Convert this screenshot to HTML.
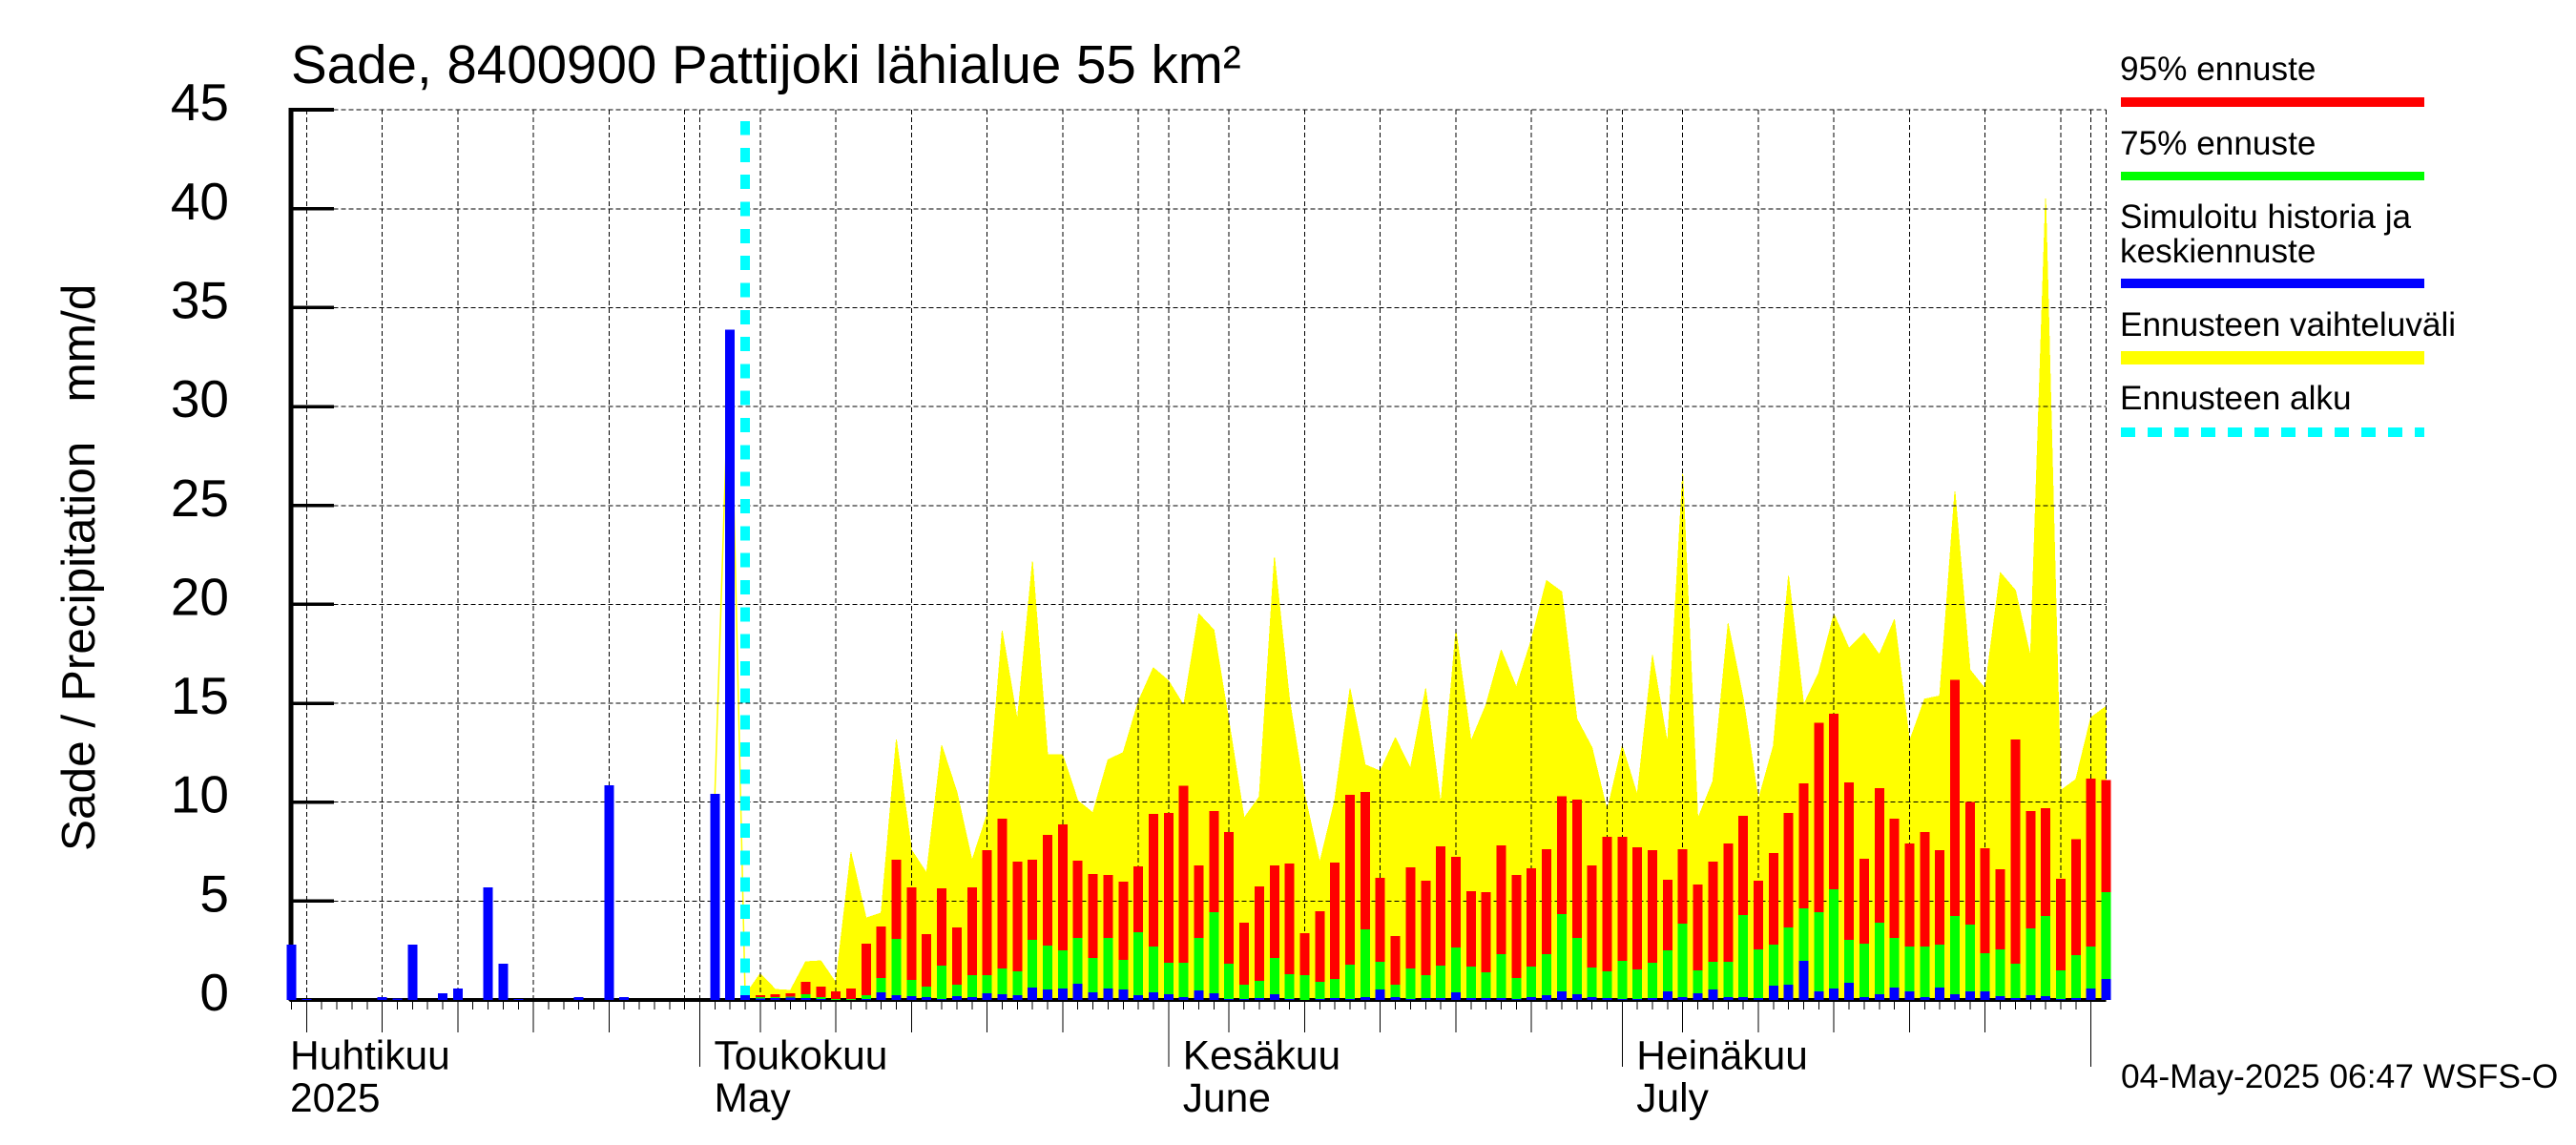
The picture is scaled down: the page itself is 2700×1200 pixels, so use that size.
<!DOCTYPE html>
<html lang="fi">
<head>
<meta charset="utf-8">
<title>Sade, 8400900 Pattijoki lähialue 55 km²</title>
<style>
  html, body { margin: 0; padding: 0; background: #fff; width: 2700px; height: 1200px; overflow: hidden; }
  svg { display: block; }
  text { font-family: "Liberation Sans", sans-serif; fill: #000; white-space: pre; }
</style>
</head>
<body>
<svg id="chart" xmlns="http://www.w3.org/2000/svg" width="2700" height="1200" viewBox="0 0 2700 1200">
  <rect x="0" y="0" width="2700" height="1200" fill="#fff"/>
  <g id="band-layer"></g>
  <g id="grid-layer"></g>
  <g id="axis-layer"></g>
  <g id="start-layer"></g>
  <g id="bar-layer"></g>

  <text x="305" y="87" font-size="56.5">Sade, 8400900 Pattijoki lähialue 55 km²</text>
  <text transform="translate(99 892) rotate(-90)" font-size="49.5">Sade / Precipitation   mm/d</text>
  <text x="2223" y="1140" font-size="35.4">04-May-2025 06:47 WSFS-O</text>

  <g>
    <text x="2222" y="84" font-size="35.2">95% ennuste</text>
    <rect x="2223" y="102" width="318" height="10" fill="#ff0000"/>
    <text x="2222" y="162" font-size="35.2">75% ennuste</text>
    <rect x="2223" y="180" width="318" height="9" fill="#00ff00"/>
    <text x="2222" y="239" font-size="35.2">Simuloitu historia ja</text>
    <text x="2222" y="275" font-size="35.2">keskiennuste</text>
    <rect x="2223" y="292" width="318" height="10" fill="#0000ff"/>
    <text x="2222" y="352" font-size="35.2">Ennusteen vaihteluväli</text>
    <rect x="2223" y="368" width="318" height="14" fill="#ffff00"/>
    <text x="2222" y="429" font-size="35.2">Ennusteen alku</text>
    <line x1="2223" x2="2541" y1="453" y2="453" stroke="#00ffff" stroke-width="10" stroke-dasharray="15 13" shape-rendering="crispEdges"/>
  </g>
</svg>

<script>
// Day index 0 = 4 Apr 2025, one value per day through index 120.
const blueValues = [
  2.8,.05,0,0,0,0,.15,.08,2.8,0,.34,.59,0,5.69,1.83,.05,0,0,0,.15,0,10.86,.15,0,0,0,0,0,10.41,33.88,.24,
  .08,.10,.11,.10,.05,0,0,.05,.39,.24,.19,.14,.05,.19,.14,.34,.29,.24,.63,.53,.58,.82,.39,.58,.53,.24,.39,.29,.14,
  .48,.34,.05,.05,.10,.29,.05,0,.05,.10,.05,.14,.53,.14,.05,.10,.10,.39,.10,.10,.10,.05,.14,.24,.43,.29,.14,.10,.05,.05,
  .10,.43,.14,.34,.53,.14,.14,.10,.72,.77,1.98,.43,.58,.87,.14,.29,.63,.43,.14,.63,.29,.43,.43,.19,.10,.24,.19,.05,.10,.58,1.06
];
const greenValues = [
  0,0,0,0,0,0,0,0,0,0,0,0,0,0,0,0,0,0,0,0,0,0,0,0,0,0,0,0,0,0,0,
  .14,.14,.18,.29,.14,.05,.05,.24,1.11,3.08,1.01,.67,1.73,.77,1.25,1.25,1.59,1.45,3.04,2.75,2.51,3.13,2.12,3.13,2.02,3.42,2.70,1.88,1.88,
  3.13,4.43,1.83,.77,.96,2.12,1.30,1.25,.92,1.06,1.78,3.57,1.93,.77,1.59,1.25,1.73,2.65,1.69,1.40,2.31,1.11,1.69,2.31,4.34,3.13,1.64,1.45,1.98,1.54,
  1.88,2.51,3.86,1.49,1.93,1.93,4.29,2.55,2.80,3.66,4.63,4.43,5.59,3.04,2.84,3.90,3.13,2.70,2.70,2.80,4.24,3.81,2.36,2.55,1.83,3.61,4.24,1.49,2.27,2.70,5.45
];
const redValues = [
  0,0,0,0,0,0,0,0,0,0,0,0,0,0,0,0,0,0,0,0,0,0,0,0,0,0,0,0,0,0,0,
  .24,.29,.34,.92,.67,.43,.58,2.84,3.71,7.08,5.69,3.33,5.64,3.66,5.69,7.57,9.16,6.99,7.08,8.34,8.87,7.04,6.36,6.31,5.98,6.75,9.40,9.45,10.84,
  6.80,9.54,8.48,3.90,5.73,6.80,6.89,3.37,4.48,6.94,10.36,10.51,6.17,3.23,6.70,6.02,7.76,7.23,5.49,5.45,7.81,6.31,6.65,7.61,10.31,10.12,6.80,8.24,8.24,7.71,
  7.57,6.07,7.61,5.83,6.99,7.90,9.30,6.02,7.42,9.45,10.94,14.02,14.46,10.99,7.13,10.70,9.16,7.90,8.48,7.57,16.19,10.02,7.66,6.60,13.16,9.54,9.69,6.12,8.14,11.18,11.13
];
// Forecast range upper bound, starting at day index 28.
const bandStartDay = 28;
const bandValues = [
  10.41,33.88,.24,
  1.32,.53,.48,1.93,1.98,.87,7.45,4.14,4.39,13.16,7.58,6.41,12.87,10.51,7.05,9.38,18.65,14.12,22.15,12.39,12.39,10.07,9.46,12.14,12.51,15.08,16.79,16.13,14.88,
  19.52,18.70,14.04,9.19,10.27,22.36,15.16,10.35,6.94,10.10,15.73,11.89,11.57,13.25,11.71,15.73,9.86,18.67,13.08,14.92,17.69,15.81,18.22,21.20,20.63,14.20,12.76,9.54,12.84,10.35,
  17.41,12.92,26.57,9.14,11.07,19.02,15.24,10.10,12.84,21.43,14.92,16.53,19.50,17.77,18.54,17.45,19.23,13.08,15.21,15.37,25.7,16.69,15.73,21.6,20.71,17.33,40.5,10.59,11.15,14.28,14.84
];
const yTickValues = [0,5,10,15,20,25,30,35,40,45];
const gridDays = [1,6,11,16,21,26,27,31,36,41,46,51,56,58,62,67,72,77,82,87,88,92,97,102,107,112,117,119,120];
const fiveDayTickDays = [1,6,11,16,21,31,36,41,46,51,58,62,67,72,77,82,92,97,102,107,112];
const monthTickDays = [27,58,88,119];
const monthLabelDays = [0,27,58,88];
const monthLabelsFi = ['Huhtikuu','Toukokuu','Kesäkuu','Heinäkuu'];
const monthLabelsEn = ['2025','May','June','July'];
const forecastStartDay = 30;
const lastDay = 120;

const NS = 'http://www.w3.org/2000/svg';
const xOrigin = 305.5, dayWidth = 15.85;
const yOrigin = 1048, unitHeight = 20.73;
const xScale = d => xOrigin + dayWidth * d;
const yScale = v => yOrigin - unitHeight * v;
const layer = id => document.getElementById(id);
function line(x1, y1, x2, y2, width, dash) {
  const el = document.createElementNS(NS, 'line');
  el.setAttribute('x1', x1);
  el.setAttribute('y1', y1);
  el.setAttribute('x2', x2);
  el.setAttribute('y2', y2);
  el.setAttribute('stroke', '#000');
  el.setAttribute('stroke-width', width);
  el.setAttribute('shape-rendering', 'crispEdges');
  if (dash) el.setAttribute('stroke-dasharray', dash);
  return el;
}
function label(str, x, y, size, anchor) {
  const el = document.createElementNS(NS, 'text');
  el.setAttribute('x', x);
  el.setAttribute('y', y);
  el.setAttribute('font-size', size);
  el.setAttribute('text-anchor', anchor);
  el.textContent = str;
  return el;
}

// Forecast range: thin outline over the last observed days, filled area after the forecast starts
(function () {
  const outlinePts = [];
  const areaPts = [[xScale(forecastStartDay), yOrigin]];
  bandValues.forEach((v, i) => {
    const d = bandStartDay + i;
    const p = [xScale(d), yScale(v)];
    if (d <= forecastStartDay) outlinePts.push(p);
    if (d >= forecastStartDay) areaPts.push(p);
  });
  areaPts.push([xScale(lastDay), yOrigin]);
  const fmt = pts => pts.map(p => p[0].toFixed(1) + ',' + p[1].toFixed(1)).join(' ');
  const outline = document.createElementNS(NS, 'polyline');
  
  
  outline.setAttribute('points', fmt(outlinePts));
  outline.setAttribute('fill', 'none');
  outline.setAttribute('stroke', '#ffff00');
  outline.setAttribute('stroke-width', 1.5);
  layer('band-layer').appendChild(outline);
  const area = document.createElementNS(NS, 'polygon');
  
  
  area.setAttribute('points', fmt(areaPts));
  area.setAttribute('fill', '#ffff00');
  area.setAttribute('stroke', '#ffff00');
  area.setAttribute('stroke-width', 1);
  area.setAttribute('stroke-linejoin', 'round');
  area.setAttribute('shape-rendering', 'crispEdges');
  layer('band-layer').appendChild(area);
})();

// Grid
yTickValues.forEach(v => {
  const el = line(xScale(0) + 44, yScale(v), xScale(lastDay), yScale(v), 1, '5 3');
  
  
  layer('grid-layer').appendChild(el);
});
gridDays.forEach(d => {
  const el = line(xScale(d), yScale(45), xScale(d), yOrigin, 1, '5 3');
  
  
  layer('grid-layer').appendChild(el);
});

// Axes
(function () {
  const yAxis = line(305, yScale(45) - 2, 305, yOrigin + 1, 5);
  
  
  layer('axis-layer').appendChild(yAxis);
  const xAxis = line(303.5, 1048, xScale(lastDay), 1048, 4);
  
  
  layer('axis-layer').appendChild(xAxis);
})();
yTickValues.forEach(v => {
  const t = line(305, yScale(v), 350, yScale(v), v === 45 ? 4 : 3.5);
  
  
  layer('axis-layer').appendChild(t);
  const l = label(String(v), 240, yScale(v) + 11, 55, 'end');
  
  
  layer('axis-layer').appendChild(l);
});
for (let d = 0; d < lastDay; d++) {
  const t = line(xScale(d), 1049, xScale(d), 1058, 1);
  
  
  layer('axis-layer').appendChild(t);
}
fiveDayTickDays.forEach(d => {
  const t = line(xScale(d), 1049, xScale(d), 1082, 1);
  
  
  layer('axis-layer').appendChild(t);
});
monthTickDays.forEach(d => {
  const t = line(xScale(d), 1049, xScale(d), 1118, 1);
  
  
  layer('axis-layer').appendChild(t);
});
monthLabelDays.forEach((d, i) => {
  const x = d === 0 ? xScale(0) - 1.5 : xScale(d) + 15;
  const a = label(monthLabelsFi[i], x, 1120.5, 42.5, 'start');
  
  
  layer('axis-layer').appendChild(a);
  const b = label(monthLabelsEn[i], x, 1165, 42.5, 'start');
  
  
  layer('axis-layer').appendChild(b);
});

// Forecast start line, dashed from the baseline upward
(function () {
  const el = document.createElementNS(NS, 'line');
  
  
  el.setAttribute('x1', xScale(forecastStartDay));
  el.setAttribute('x2', xScale(forecastStartDay));
  el.setAttribute('y1', yOrigin);
  el.setAttribute('y2', 127);
  el.setAttribute('stroke', '#00ffff');
  el.setAttribute('stroke-width', 10);
  el.setAttribute('stroke-dasharray', '15 13.33');
  el.setAttribute('shape-rendering', 'crispEdges');
  layer('start-layer').appendChild(el);
})();

// Bars
function bar(day, value, color) {
  const el = document.createElementNS(NS, 'rect');
  el.setAttribute('x', xScale(day) - 5);
  el.setAttribute('y', yScale(value));
  el.setAttribute('width', 10);
  el.setAttribute('height', Math.max(0, yOrigin - yScale(value)));
  el.setAttribute('fill', color);
  el.setAttribute('shape-rendering', 'crispEdges');
  return el;
}
redValues.forEach((v, d) => {
  const el = bar(d, v, '#ff0000');
  
  
  layer('bar-layer').appendChild(el);
});
greenValues.forEach((v, d) => {
  const el = bar(d, v, '#00ff00');
  
  
  layer('bar-layer').appendChild(el);
});
blueValues.forEach((v, d) => {
  const el = bar(d, v, '#0000ff');
  
  
  layer('bar-layer').appendChild(el);
});
</script>
</body>
</html>
